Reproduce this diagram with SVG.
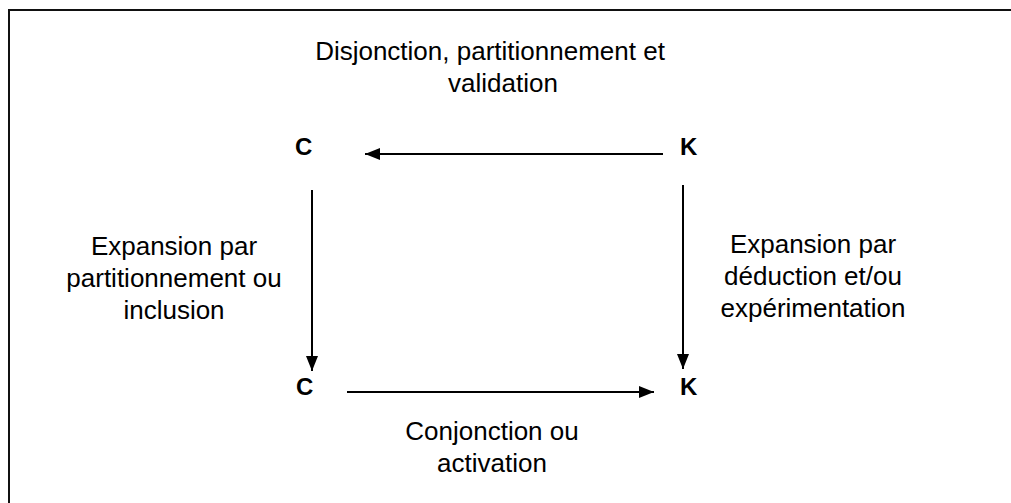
<svg xmlns="http://www.w3.org/2000/svg" width="1011" height="503" viewBox="0 0 1011 503">
<defs>
<style>
.lbl{font-family:"Liberation Sans",Arial,sans-serif;font-size:26px;fill:#000;}
.node{font-family:"Liberation Sans",Arial,sans-serif;font-size:24px;font-weight:bold;fill:#000;}
.conn{stroke:#000;stroke-width:2;fill:none;marker-end:url(#ah);}
</style>
<marker id="ah" viewBox="0 0 15 12" refX="15" refY="6" markerWidth="15" markerHeight="12" markerUnits="userSpaceOnUse" orient="auto">
<path d="M0,0 L15,6 L0,12 Z" fill="#000"/>
</marker>
</defs>
<rect x="0" y="0" width="1011" height="503" fill="#fff"/>
<rect x="9" y="10" width="1010" height="500" fill="none" stroke="#111" stroke-width="2"/>
<g id="connectors">
<line class="conn" x1="663" y1="154" x2="365" y2="154"/>
<line class="conn" x1="312" y1="190" x2="312" y2="371"/>
<line class="conn" x1="683" y1="185" x2="683" y2="369"/>
<line class="conn" x1="347" y1="392" x2="654" y2="392"/>
</g>
<g id="node-C-top"><text class="node" x="295" y="155">C</text></g>
<g id="node-K-top"><text class="node" x="680" y="155">K</text></g>
<g id="node-C-bottom"><text class="node" x="296" y="395">C</text></g>
<g id="node-K-bottom"><text class="node" x="680" y="395">K</text></g>
<g id="label-top" class="lbl" text-anchor="middle">
<text x="490" y="60">Disjonction, partitionnement et</text>
<text x="503" y="92">validation</text>
</g>
<g id="label-left" class="lbl" text-anchor="middle">
<text x="174" y="255">Expansion par</text>
<text x="174" y="287">partitionnement ou</text>
<text x="174" y="319">inclusion</text>
</g>
<g id="label-right" class="lbl" text-anchor="middle">
<text x="813" y="253">Expansion par</text>
<text x="813" y="285">déduction et/ou</text>
<text x="813" y="317">expérimentation</text>
</g>
<g id="label-bottom" class="lbl" text-anchor="middle">
<text x="492" y="440">Conjonction ou</text>
<text x="492" y="472">activation</text>
</g>
</svg>
